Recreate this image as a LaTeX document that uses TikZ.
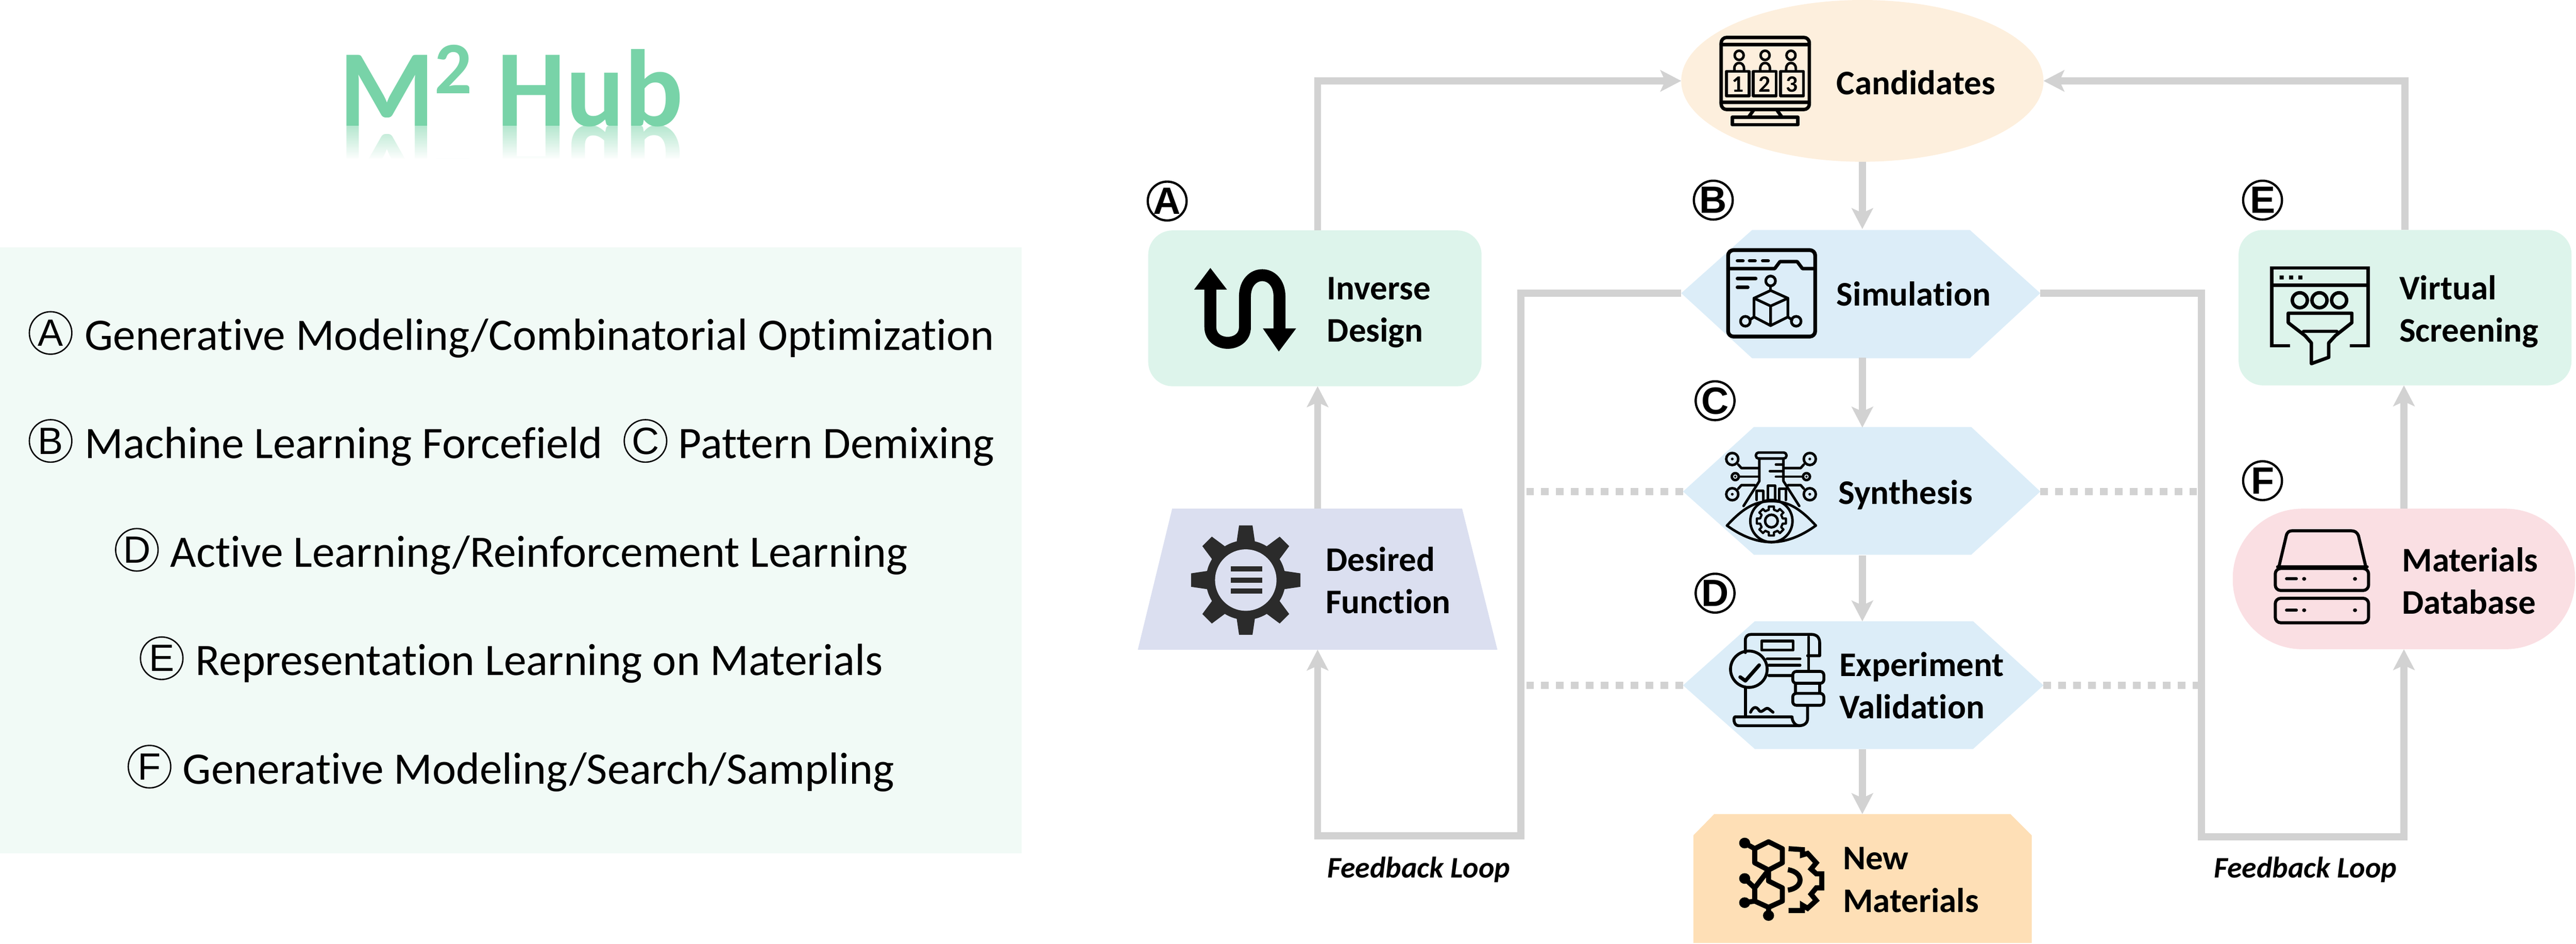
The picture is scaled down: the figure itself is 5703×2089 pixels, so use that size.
\documentclass[tikz,border=0pt]{standalone}
\usepackage{fontspec}
\setmainfont[Ligatures=NoCommon]{Carlito}
\newfontfamily\lsans{Liberation Sans}
\usetikzlibrary{arrows.meta,shapes.geometric,fadings}
\definecolor{lineg}{HTML}{D2D2D2}
\definecolor{greenbox}{HTML}{DDF4EB}
\definecolor{candc}{HTML}{FDEFDD}
\definecolor{hexc}{HTML}{DCEDF8}
\definecolor{desc}{HTML}{DBDFF0}
\definecolor{newc}{HTML}{FEDFB6}
\definecolor{dbc}{HTML}{FADFE3}
\definecolor{panelc}{HTML}{F1FAF6}
\definecolor{titlec}{HTML}{78D3A8}
\definecolor{gearc}{HTML}{2B2B2B}
\newcommand{\cogteeth}[6]{\foreach \a in {0,45,...,315}{\fill ([shift={(#1,#2)}]\a-#5:#3) -- ([shift={(#1,#2)}]\a-#6:#4) -- ([shift={(#1,#2)}]\a+#6:#4) -- ([shift={(#1,#2)}]\a+#5:#3) -- cycle;}}
\tikzset{
  shapebase/.style={inner sep=0pt,outer sep=0pt,draw=none},
  gbox/.style={shapebase,rectangle,rounded corners=13.5pt,fill=greenbox},
  anchorbox/.style={shapebase,rectangle},
  conn/.style={draw=lineg,line width=3.9pt,-{Stealth[length=11.5pt,width=11.8pt,inset=2.6pt]}},
  dotconn/.style={draw=lineg,line width=3.9pt,dash pattern=on 4.25pt off 4pt},
  lab/.style={inner sep=0pt,outer sep=0pt,anchor=base west,align=left,font=\bfseries\fontsize{19.1pt}{23.5pt}\selectfont},
  fb/.style={inner sep=0pt,anchor=base west,font=\bfseries\itshape\fontsize{16.5pt}{16pt}\selectfont},
  ptxt/.style={inner sep=0pt,anchor=base west,font=\fontsize{24.95pt}{25pt}\selectfont},
  pmark/.style={circle,draw=black,line width=.75pt,minimum size=23.5pt,inner sep=0pt,font=\lsans\fontsize{21pt}{21pt}\selectfont},
  dmark/.style={circle,draw=black,line width=1.25pt,minimum size=21.5pt,inner sep=0pt,font=\lsans\bfseries\fontsize{21pt}{21pt}\selectfont},
  ic/.style={draw=black,line width=1.9pt,line join=round,line cap=round},
  zC/.style={shift={(3600,0)},x=.19133pt,y=-.15945pt},
  zA/.style={shift={(2450,0)},x=.19133pt,y=-.15945pt},
  zD/.style={shift={(4700,0)},x=.15992pt,y=-.15945pt},
  zF/.style={shift={(3600,1000)},x=.19133pt,y=-.17363pt},
  zG/.style={shift={(4700,1000)},x=.15992pt,y=-.17363pt},
  zS/.style={shift={(3760,950)},x=.08333pt,y=-.08333pt},
}
\begin{document}
\begin{tikzpicture}[x=.25pt,y=-.25pt]
\useasboundingbox (0,0) rectangle (5703,2089);
% ---- left panel
\node[shapebase,rectangle,fill=panelc,anchor=north west,minimum width=565.5pt,minimum height=335.5pt] (panel) at (0,547) {};
\node[inner sep=0pt,anchor=base west,text=titlec!55!white,yscale=-1,transform shape,font=\bfseries\fontsize{60.5pt}{60pt}\selectfont] (titleR) at (750,279) {M\raisebox{18pt}{\fontsize{41pt}{41pt}\selectfont 2} Hub};
\fill[white,path fading=north] (700,279) rectangle (1560,353);
\fill[white] (700,351) rectangle (1560,480);
\node[inner sep=0pt,anchor=base west,text=titlec,font=\bfseries\fontsize{60.5pt}{60pt}\selectfont] (title) at (750,279) {M\raisebox{18pt}{\fontsize{41pt}{41pt}\selectfont 2} Hub};

\node[pmark] (pA) at (112,737) {A};
\node[ptxt] (tA) at (187,775) {Generative Modeling/Combinatorial Optimization};
\node[pmark] (pB) at (112,976) {B};
\node[ptxt] (tB) at (187,1015) {Machine Learning Forcefield};
\node[pmark] (pC) at (1429,976) {C};
\node[ptxt] (tC) at (1501,1015) {Pattern Demixing};
\node[pmark] (pD) at (303,1217) {D};
\node[ptxt] (tD) at (376,1255) {Active Learning/Reinforcement Learning};
\node[pmark] (pE) at (358,1457) {E};
\node[ptxt] (tE) at (432,1495) {Representation Learning on Materials};
\node[pmark] (pF) at (331,1697) {F};
\node[ptxt] (tF) at (404,1735) {Generative Modeling/Search/Sampling};

% ---- boxes
\node[shapebase,ellipse,fill=candc,minimum width=200.5pt,minimum height=89.5pt] (cand) at (4123,179) {};
\node[gbox,minimum width=184.5pt,minimum height=86.25pt] (inv) at (2911,682.5) {};
\node[gbox,minimum width=184.25pt,minimum height=86pt] (virt) at (5324.5,681) {};
\fill[hexc] (3722,649) -- (3879,509) -- (4361,509) -- (4517,649) -- (4361,793) -- (3879,793) -- cycle;
\node[anchorbox,minimum width=198.75pt,minimum height=71pt] (sim) at (4119.5,649) {};
\fill[hexc] (3726,1088) -- (3883,945) -- (4364,945) -- (4517,1088) -- (4364,1228) -- (3883,1228) -- cycle;
\node[anchorbox,minimum width=197.75pt,minimum height=70.75pt] (syn) at (4121.5,1088) {};
\fill[hexc] (3726,1517) -- (3885,1375) -- (4368,1375) -- (4524,1517) -- (4368,1658) -- (3885,1658) -- cycle;
\node[anchorbox,minimum width=199.5pt,minimum height=70.75pt] (exp) at (4125,1517) {};
\fill[newc] (3795,1802) -- (4451,1802) -- (4498,1849) -- (4498,2087) -- (3749,2087) -- (3749,1849) -- cycle;
\node[anchorbox,minimum width=187.25pt,minimum height=71.25pt] (new) at (4123.5,1944.5) {};
\fill[desc] (2595,1126) -- (3237,1126) -- (3315,1438) -- (2519,1438) -- cycle;
\node[anchorbox,minimum width=199pt,minimum height=78pt] (des) at (2917,1282) {};
\node[shapebase,rectangle,rounded corners=38.5pt,fill=dbc,minimum width=189.5pt,minimum height=77.75pt] (db) at (5322,1281.5) {};

% ---- connectors
\coordinate (fl) at (3367,1850);
\coordinate (fr) at (4874,1852);
\draw[conn] (des.north |- inv.north) |- (cand.west);
\draw[conn] (virt.north) |- (cand.east);
\draw[conn] (cand.south) -- (cand.south |- sim.north);
\draw[conn] (cand.south |- sim.south) -- (cand.south |- syn.north);
\draw[conn] (cand.south |- syn.south) -- (cand.south |- exp.north);
\draw[conn] (cand.south |- exp.south) -- (cand.south |- new.north);
\draw[conn] (des.north) -- (des.north |- inv.south);
\draw[conn] (db.north) -- (db.north |- virt.south);
\draw[conn] (sim.west) -| (fl) -| (des.south);
\draw[conn] (sim.east) -| (fr) -| (db.south);
\draw[dotconn] (syn.west) -- (syn.west -| fl);
\draw[dotconn] (exp.west) -- (exp.west -| fl);
\draw[dotconn] (syn.east) -- (syn.east -| fr);
\draw[dotconn] (exp.east) -- (exp.east -| fr);

% ---- labels
\node[lab] (candT) at (4066,209) {Candidates};
\node[lab] (simT) at (4066,677) {Simulation};
\node[lab] (synT) at (4070,1116) {Synthesis};
\node[lab] (expT) at (4072,1591) {Experiment\\Validation};
\node[lab] (newT) at (4080,2019) {New\\Materials};
\node[lab] (invT) at (2938,757) {Inverse\\Design};
\node[lab] (desT) at (2935,1358) {Desired\\Function};
\node[lab] (virT) at (5312,757) {Virtual\\Screening};
\node[lab] (dbT) at (5318,1359) {Materials\\Database};
\node[fb] (fbL) at (2938,1943) {Feedback Loop};
\node[fb] (fbR) at (4901,1943) {Feedback Loop};
\node[dmark] (mA) at (2584,445) {A};
\node[dmark] (mB) at (3793,443) {B};
\node[dmark] (mC) at (3797,887) {C};
\node[dmark] (mD) at (3797,1313) {D};
\node[dmark] (mE) at (5009,443) {E};
\node[dmark] (mF) at (5009,1064) {F};

% ---- icon: inverse design
\begin{scope}[zA]
\draw[line width=6.6pt] (300,1000) -- (300,1135) .. controls (300,1208) and (400,1208) .. (400,1135) -- (400,1030) .. controls (400,930) and (500,930) .. (500,1030) -- (500,1145);
\fill (300,930) -- (348,1005) -- (253,1005) -- cycle;
\fill (452,1140) -- (548,1140) -- (498,1220) -- cycle;
\end{scope}
% ---- icon: candidates
\begin{scope}[zC]
\draw[ic,rounded corners=3pt] (275,130) rectangle (530,380);
\draw[ic] (275,155) -- (530,155);
\draw[ic] (275,355) -- (530,355);
\draw[ic] (370,380) -- (355,405);
\draw[ic] (435,380) -- (450,405);
\draw[ic] (307,407) rectangle (497,433);
\foreach \u/\v in {327/290,402/368,477/447}{
  \draw[ic,line width=1.4pt] (\u,192) circle[x radius=13,y radius=16];
  \draw[ic,line width=1.4pt] (\u-14,247) -- (\u-14,238) .. controls (\u-14,212) and (\u+14,212) .. (\u+14,238) -- (\u+14,247);
  \draw[ic,line width=1.6pt] (\v,248) rectangle (\v+66,333);
}
\node[inner sep=0pt,font=\bfseries\fontsize{13pt}{13pt}\selectfont] (d1) at (323,293) {1};
\node[inner sep=0pt,font=\bfseries\fontsize{13pt}{13pt}\selectfont] (d2) at (401,293) {2};
\node[inner sep=0pt,font=\bfseries\fontsize{13pt}{13pt}\selectfont] (d3) at (480,293) {3};
\end{scope}
% ---- icon: simulation
\begin{scope}[zC]
\draw[ic,line width=2.1pt,rounded corners=3pt] (295,868) rectangle (547,1168);
\draw[ic] (295,932) -- (430,932) -- (445,908) -- (495,908) -- (510,932) -- (547,932);
\draw[ic] (322,905) -- (338,905) (357,905) -- (373,905) (395,905) -- (411,905);
\draw[ic] (322,967) -- (375,967) (322,997) -- (352,997);
\draw[ic,line width=1.5pt] (418,975) circle[x radius=14,y radius=17];
\draw[ic,line width=1.5pt] (418,992) -- (418,1008);
\draw[ic,line width=1.5pt] (418,1008) -- (468,1035) -- (468,1100) -- (418,1130) -- (370,1100) -- (370,1035) -- cycle;
\draw[ic,line width=1.5pt] (370,1035) -- (418,1062) -- (468,1035) (418,1062) -- (418,1130);
\draw[ic,line width=1.5pt] (345,1115) circle[x radius=14,y radius=17];
\draw[ic,line width=1.5pt] (492,1115) circle[x radius=14,y radius=17];
\draw[ic,line width=1.5pt] (358,1110) -- (370,1100) (480,1110) -- (468,1100);
\end{scope}
% ---- icon: synthesis
\begin{scope}[zS]
\tikzset{ics/.style={ic,line width=1.4pt}}
\draw[ics,rounded corners=1.5pt] (382,155) rectangle (585,195);
\draw[ics] (405,195) -- (405,345) -- (300,510);
\draw[ics] (565,195) -- (565,345) -- (670,510);
\draw[ics] (190,640) .. controls (300,520) and (380,478) .. (485,478) .. controls (590,478) and (670,520) .. (780,640);
\draw[ics] (190,640) .. controls (300,720) and (400,750) .. (485,750) .. controls (570,750) and (670,720) .. (780,640);
\draw[ics] (485,610) circle[radius=140];
\draw[ics] (485,610) circle[radius=42];
\foreach \a in {0,45,...,315}{
  \draw[ic,line width=1.2pt,shift={(485,610)}] (\a-22.5:76) -- (\a-13:76) -- (\a-10:98) -- (\a+10:98) -- (\a+13:76) -- (\a+22.5:76);
}
\draw[ics] (225,198) circle[radius=40];
\draw[ics] (740,198) circle[radius=40];
\draw[ics] (225,432) circle[radius=40];
\draw[ics] (740,432) circle[radius=40];
\draw[ics] (245,315) circle[radius=23];
\draw[ics] (718,315) circle[radius=23];
\fill (225,198) circle[radius=9] (740,198) circle[radius=9] (225,432) circle[radius=9] (740,432) circle[radius=9] (245,315) circle[radius=7] (718,315) circle[radius=7];
\draw[ics] (265,235) -- (285,258) -- (400,258);
\draw[ics] (270,315) -- (400,315);
\draw[ics] (265,395) -- (285,372) -- (375,372);
\draw[ics] (700,235) -- (680,258) -- (570,258);
\draw[ics] (695,315) -- (515,315);
\draw[ics] (700,395) -- (680,372) -- (595,372);
\draw[ics] (515,235) -- (565,235) (475,278) -- (565,278);
\draw[ics] (388,470) -- (388,410) -- (430,410) -- (430,470);
\draw[ics] (462,470) -- (462,375) -- (510,375) -- (510,470);
\draw[ics] (537,470) -- (537,395) -- (580,395) -- (580,470);
\end{scope}
% ---- icon: experiment
\begin{scope}[zF]
\tikzset{ics/.style={ic,line width=1.6pt}}
\draw[ics] (345,640) -- (345,600) .. controls (345,588) and (352,582) .. (362,582) -- (535,582) .. controls (552,582) and (560,592) .. (560,610) -- (560,650) -- (525,650);
\draw[ics] (528,590) -- (528,695);
\draw[ics] (345,750) -- (345,845);
\draw[ics] (315,845) -- (480,845) .. controls (480,860) and (490,873) .. (500,873) .. controls (515,873) and (525,865) .. (525,850) -- (525,810);
\draw[ics] (500,873) -- (325,873) .. controls (310,873) and (310,845) .. (315,845);
\draw[ics] (392,603) rectangle (483,632);
\draw[ics] (408,660) -- (503,660) (413,680) -- (503,680) (413,713) -- (480,713);
\draw[ics] (355,693) circle[x radius=53,y radius=58];
\draw[ics,line width=2pt] (330,718) -- (345,730) -- (385,680);
\draw[ics,rounded corners=2pt] (482,700) rectangle (572,738);
\draw[ics] (490,738) rectangle (560,770);
\draw[ics,rounded corners=2pt] (482,770) rectangle (572,808);
\draw[ics] (360,830) .. controls (368,810) and (378,812) .. (385,825) .. controls (392,835) and (402,815) .. (410,818) .. controls (415,820) and (418,825) .. (425,830);
\end{scope}
% ---- icon: new materials
\begin{scope}[zF]
\tikzset{ics/.style={ic,line width=2.8pt}}
\draw[ics] (412,1243) -- (452,1265) -- (452,1310) -- (412,1333) -- (372,1310) -- (372,1265) -- cycle;
\draw[ics] (412,1333) -- (412,1368) -- (452,1390) -- (452,1432) -- (412,1452) -- (372,1432) -- (372,1390) -- cycle;
\draw[ics] (343,1247) -- (372,1265) (343,1360) -- (372,1390) (343,1437) -- (372,1432) (412,1452) -- (412,1478);
\fill (343,1247) circle[x radius=16,y radius=17] (343,1360) circle[x radius=16,y radius=17] (343,1437) circle[x radius=16,y radius=17] (412,1478) circle[x radius=16,y radius=17];
\draw[ics,line cap=butt,line join=miter] (470,1265) -- (510,1268) -- (510,1285) -- (525,1280) -- (550,1310) -- (535,1330) -- (550,1345) -- (566,1345) -- (566,1390) -- (550,1390) -- (535,1410) -- (550,1430) -- (525,1455) -- (510,1445) -- (510,1462) -- (470,1462);
\draw[ics,line cap=butt] (468,1332) .. controls (515,1340) and (515,1390) .. (468,1397);
\end{scope}
% ---- icon: desired function
\fill[gearc] (2758,1284) circle[radius=88];
\begin{scope}[gearc]
\cogteeth{2758}{1284}{85}{122}{14}{7}
\end{scope}
\fill[desc] (2758,1284) circle[radius=68];
\fill[gearc] (2725,1254) rectangle (2794,1265);
\fill[gearc] (2725,1279) rectangle (2794,1290);
\fill[gearc] (2725,1303) rectangle (2794,1314);
% ---- icon: virtual screening
\begin{scope}[zD]
\draw[ic,line cap=butt,line join=miter] (578,1200) -- (515,1200) -- (515,930) -- (848,930) -- (848,1200) -- (785,1200);
\draw[ic] (515,990) -- (848,990);
\fill (542,956) rectangle (556,970) (575,956) rectangle (589,970) (607,956) rectangle (621,970);
\draw[ic] (612,1042) circle[x radius=26,y radius=26];
\draw[ic] (680,1042) circle[x radius=26,y radius=26];
\draw[ic] (748,1042) circle[x radius=26,y radius=26];
\draw[ic] (572,1087) -- (792,1087) -- (792,1120) -- (735,1165) -- (712,1190) -- (712,1240) -- (652,1262) -- (652,1190) -- (630,1165) -- (572,1120) -- cycle;
\draw[ic] (625,1150) -- (740,1150);
\end{scope}
% ---- icon: database
\begin{scope}[zG]
\tikzset{ics/.style={ic,line width=1.7pt}}
\draw[ics] (540,365) -- (565,268) .. controls (568,256) and (575,252) .. (585,252) -- (790,252) .. controls (802,252) and (810,256) .. (815,268) -- (840,365);
\draw[ics] (535,367) -- (845,367);
\draw[ics,rounded corners=3pt] (527,372) rectangle (850,442);
\draw[ics,rounded corners=3pt] (527,467) rectangle (850,545);
\draw[ics] (566,405) -- (600,405) (566,505) -- (600,505);
\fill (627,405) circle[x radius=7,y radius=6] (803,405) circle[x radius=7,y radius=6] (627,505) circle[x radius=7,y radius=6] (803,505) circle[x radius=7,y radius=6];
\end{scope}
\end{tikzpicture}
\end{document}
